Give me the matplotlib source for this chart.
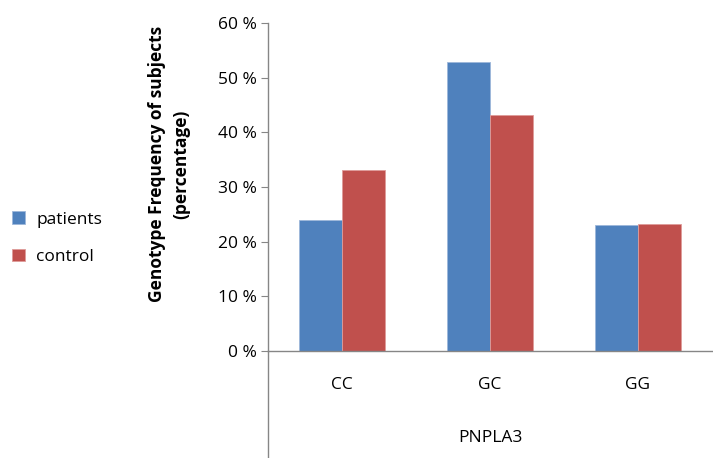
import matplotlib.pyplot as plt
import numpy as np

# genotype frequencies (%) for PNPLA3
genotypes = ["CC", "GC", "GG"]
patients = [24.0, 52.9, 23.0]
control = [33.2, 43.2, 23.3]
yticks = [0, 10, 20, 30, 40, 50, 60]

BLUE = "#4F81BD"
RED = "#C0504D"
AXIS = "#868686"
FS = 12.5

plt.rcParams["font.family"] = ["Open Sans", "DejaVu Sans"]

fig = plt.figure(figsize=(7.13, 4.58), dpi=100)
ax = fig.add_axes([0.3763, 0.2343, 0.6217, 0.7148])

x = np.arange(len(genotypes))
w = 0.291
ax.bar(x - w / 2, patients, w, color=BLUE, edgecolor="#9DB7DA", linewidth=0.6, label="patients")
ax.bar(x + w / 2, control, w, color=RED, edgecolor="#DE9C9A", linewidth=0.6, label="control")

ax.set_xlim(-0.5, 2.5)
ax.set_ylim(0, 60)
ax.set_yticks(yticks)
ax.set_yticklabels([f"{t} %" for t in yticks], fontsize=FS)
ax.tick_params(axis="y", direction="out", length=5, color=AXIS, pad=3)
ax.set_xticks([])

for s in ["top", "right"]:
    ax.spines[s].set_visible(False)
for s in ["left", "bottom"]:
    ax.spines[s].set_color(AXIS)
    ax.spines[s].set_linewidth(1.0)

# left axis runs down through the category label area
ax.plot([-0.5, -0.5], [0, -0.33], transform=ax.get_xaxis_transform(),
        color=AXIS, lw=1.0, clip_on=False)

for xi, g in zip(x, genotypes):
    ax.text(xi, -0.105, g, transform=ax.get_xaxis_transform(),
            ha="center", va="center", fontsize=FS)
ax.text(1, -0.2665, "PNPLA3", transform=ax.get_xaxis_transform(),
        ha="center", va="center", fontsize=FS)

fig.text(0.237, 0.642, "Genotype Frequency of subjects\n(percentage)",
         rotation=90, ha="center", va="center", fontsize=FS,
         fontweight="bold", linespacing=1.45)

fig.legend(loc="center left", bbox_to_anchor=(0.007, 0.48), frameon=False,
           fontsize=FS, handlelength=0.75, handleheight=0.75,
           handletextpad=0.65, labelspacing=1.2, borderaxespad=0.1,
           borderpad=0.3)

fig.savefig("out.png", dpi=100)
